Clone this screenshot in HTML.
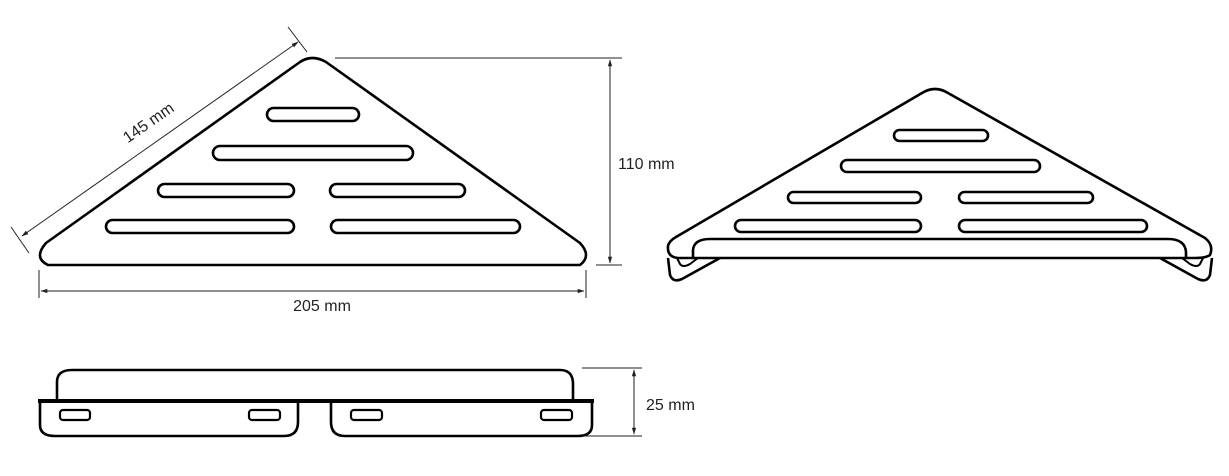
<!DOCTYPE html>
<html><head><style>
html,body{margin:0;padding:0;background:#fff;}
svg{display:block;}
text{font-family:"Liberation Sans",sans-serif;fill:#222;}
</style></head><body>
<svg width="1229" height="476" viewBox="0 0 1229 476" xmlns="http://www.w3.org/2000/svg">
<defs>
<marker id="a" viewBox="0 0 10 10" refX="9" refY="5" markerWidth="7" markerHeight="7" orient="auto-start-reverse"><path d="M0,2 L10,5 L0,8 z" fill="#222"/></marker>
</defs>
<g fill="none" stroke="#000" stroke-width="2.6" stroke-linejoin="round">
<path d="M300,62 Q312,54 326,62 L580,243 Q592,256 580,265 L48,265 Q33,258 46,243 Z"/>
<rect x="267" y="108" width="92" height="13" rx="6.5"/>
<rect x="213" y="146" width="200" height="14" rx="7"/>
<rect x="158" y="184" width="136" height="13" rx="6.5"/>
<rect x="330" y="184" width="135" height="13" rx="6.5"/>
<rect x="106" y="220" width="188" height="13" rx="6.5"/>
<rect x="331" y="220" width="189" height="13" rx="6.5"/>
<path d="M922,93 Q935,85 948,93 L1205,238 Q1214,245 1210,255 Q1206,258 1195,258 L678,258 Q667,257 668,246 Q669,241 676,237 Z"/>
<path d="M693,258 L693,250 Q694,239 710,239 L1168,239 Q1185,239 1186,252 L1186,258"/>
<path d="M668,258 L670,275 Q673,283 682,279 L720,258"/>
<path d="M677,258 L680,264 Q683,268 690,264 L698,258" stroke-width="2"/>
<path d="M1212,258 L1210,275 Q1207,283 1198,279 L1160,258"/>
<path d="M1203,258 L1200,264 Q1197,268 1190,264 L1182,258" stroke-width="2"/>
<rect x="894" y="130" width="94" height="11" rx="5.5"/>
<rect x="841" y="160" width="199" height="12" rx="6"/>
<rect x="788" y="192" width="133" height="11" rx="5.5"/>
<rect x="959" y="192" width="134" height="11" rx="5.5"/>
<rect x="735" y="220" width="186" height="12" rx="6"/>
<rect x="959" y="220" width="188" height="12" rx="6"/>
<path d="M57,401 L57,382 Q57,370 72,370 L560,370 Q573,370 573,384 L573,401"/>
<path d="M40,401 L40,425 Q40,436 55,436 L284,436 Q298,436 298,422 L298,401"/>
<path d="M331,401 L331,422 Q331,436 345,436 L578,436 Q592,436 592,425 L592,401"/>
<rect x="60" y="410" width="30" height="10" rx="3" stroke-width="2.2"/>
<rect x="249" y="410" width="31" height="10" rx="3" stroke-width="2.2"/>
<rect x="351" y="410" width="31" height="10" rx="3" stroke-width="2.2"/>
<rect x="541" y="410" width="31" height="10" rx="3" stroke-width="2.2"/>
</g>
<line x1="38" y1="401" x2="594" y2="401" stroke="#000" stroke-width="4"/>
<g stroke="#222" stroke-width="1" fill="none">
<line x1="22" y1="236" x2="298" y2="42" marker-start="url(#a)" marker-end="url(#a)"/>
<line x1="11" y1="227" x2="29" y2="253"/>
<line x1="288" y1="27" x2="307" y2="52"/>
<line x1="335" y1="58" x2="622" y2="58"/>
<line x1="596" y1="265" x2="622" y2="265"/>
<line x1="610" y1="60" x2="610" y2="263" marker-start="url(#a)" marker-end="url(#a)"/>
<line x1="39" y1="270" x2="39" y2="298"/>
<line x1="586" y1="270" x2="586" y2="298"/>
<line x1="41" y1="291" x2="584" y2="291" marker-start="url(#a)" marker-end="url(#a)"/>
<line x1="582" y1="368" x2="642" y2="368"/>
<line x1="582" y1="436" x2="642" y2="436"/>
<line x1="634" y1="370" x2="634" y2="434" marker-start="url(#a)" marker-end="url(#a)"/>
</g>
<text x="148" y="128" font-size="16" text-anchor="middle" transform="rotate(-35 148 122)">145 mm</text>
<text x="618" y="169" font-size="16">110 mm</text>
<text x="322" y="311" font-size="16" text-anchor="middle">205 mm</text>
<text x="646" y="410" font-size="16">25 mm</text>
</svg>
</body></html>
